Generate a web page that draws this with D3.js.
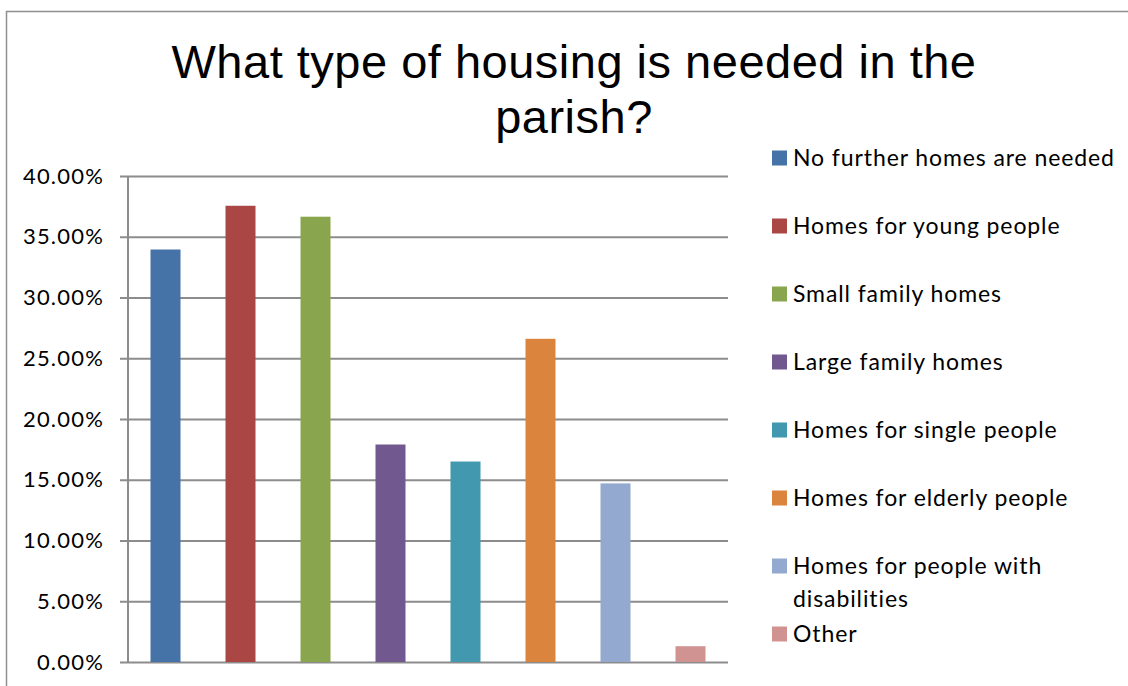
<!DOCTYPE html>
<html>
<head>
<meta charset="utf-8">
<script src="https://cdn.jsdelivr.net/npm/d3@7"></script>
<style>
  html, body { margin: 0; padding: 0; background: #fff; }
  svg { display: block; }
</style>
</head>
<body>
<svg id="chart" width="1128" height="686"></svg>
<script>
// Survey answers: share of respondents choosing each housing type
const categories = [
  "No further homes are needed",
  "Homes for young people",
  "Small family homes",
  "Large family homes",
  "Homes for single people",
  "Homes for elderly people",
  "Homes for people with disabilities",
  "Other"
];
const values = [0.3395, 0.3755, 0.3665, 0.179, 0.165, 0.266, 0.147, 0.013];
const colors = ["#4572A7", "#AA4643", "#89A54E", "#71588F", "#4198AF", "#DB843D", "#93A9CF", "#D19392"];
const yTicks = [0, 0.05, 0.10, 0.15, 0.20, 0.25, 0.30, 0.35, 0.40];
const titleLines = ["What type of housing is needed in the", "parish?"];

const svg = d3.select("#chart");
const bodyFont = "Lato, 'Open Sans', sans-serif";

// Outer chart frame (bottom and right run past the page edge)
svg.append("rect")
  .attr("x", 6.5).attr("y", 11.5)
  .attr("width", 1140).attr("height", 700)
  .attr("fill", "none").attr("stroke", "#8f8f8f").attr("stroke-width", 1.5);

// Title
svg.append("text")
  .attr("text-anchor", "middle")
  .attr("font-family", "'Liberation Sans', Arial, sans-serif")
  .attr("font-size", 47)
  .attr("letter-spacing", 0.5)
  .attr("fill", "#000")
  .selectAll("tspan")
  .data(titleLines)
  .join("tspan")
  .attr("x", 574)
  .attr("y", (d, i) => 78 + i * 55)
  .text(d => d);

// Plot area
const plot = { left: 128, right: 728, top: 176, bottom: 662 };

const x = d3.scaleBand()
  .domain(categories)
  .range([plot.left, plot.right])
  .paddingInner(0.6)
  .paddingOuter(0.3);

const y = d3.scaleLinear()
  .domain([0, 0.40])
  .range([plot.bottom, plot.top]);

const gridColor = "#8c8c8c";

// Horizontal gridlines with small outside tick marks
const yAxis = d3.axisLeft(y)
  .tickValues(yTicks)
  .tickFormat(d3.format(".2%"))
  .tickSize(-(plot.right - plot.left))
  .tickPadding(24);

const gy = svg.append("g")
  .attr("transform", `translate(${plot.left},0)`)
  .call(yAxis);
gy.select(".domain").remove();
gy.selectAll(".tick line")
  .attr("x1", -8)
  .attr("stroke", gridColor)
  .attr("stroke-width", 2);
gy.selectAll(".tick text")
  .attr("font-family", bodyFont)
  .attr("font-size", 22)
  .attr("letter-spacing", 1.2)
  .attr("fill", "#000");

// Vertical value axis line
svg.append("line")
  .attr("x1", plot.left).attr("x2", plot.left)
  .attr("y1", y(0.40)).attr("y2", y(0))
  .attr("stroke", gridColor).attr("stroke-width", 2);

// Bars
svg.append("g")
  .selectAll("rect")
  .data(values)
  .join("rect")
  .attr("x", (d, i) => x(categories[i]))
  .attr("width", x.bandwidth())
  .attr("y", d => y(d))
  .attr("height", d => y(0) - y(d))
  .attr("fill", (d, i) => colors[i]);

// Legend
const legendRows = [
  ["No further homes are needed"],
  ["Homes for young people"],
  ["Small family homes"],
  ["Large family homes"],
  ["Homes for single people"],
  ["Homes for elderly people"],
  ["Homes for people with", "disabilities"],
  ["Other"]
];
const legendY = [158, 226, 294, 362, 430, 498, 566, 634];

const legend = svg.append("g");
const item = legend.selectAll("g")
  .data(legendRows)
  .join("g")
  .attr("transform", (d, i) => `translate(772,${legendY[i]})`);

item.append("rect")
  .attr("x", 0).attr("y", -7.5)
  .attr("width", 15).attr("height", 15)
  .attr("fill", (d, i) => colors[i]);

item.append("text")
  .attr("font-family", bodyFont)
  .attr("font-size", 23)
  .attr("letter-spacing", 0.9)
  .attr("fill", "#000")
  .selectAll("tspan")
  .data(d => d)
  .join("tspan")
  .attr("x", 21)
  .attr("y", (d, i) => 8 + i * 33)
  .text(d => d);
</script>
</body>
</html>
